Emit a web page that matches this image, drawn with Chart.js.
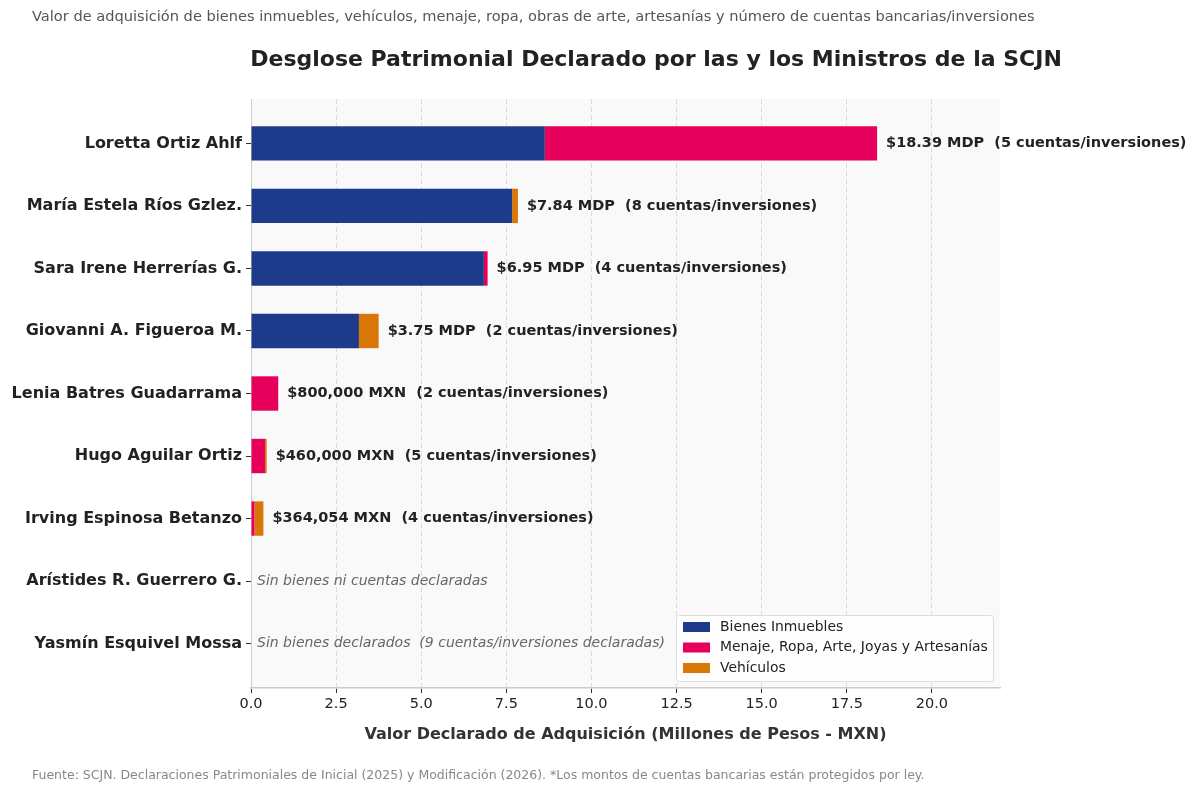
<!DOCTYPE html>
<html>
<head>
<meta charset="utf-8">
<script src="https://cdn.jsdelivr.net/npm/chart.js@4"></script>
<style>
  html, body { margin: 0; padding: 0; background: #fff; }
  #wrap { width: 1200px; height: 794px; position: relative; }
</style>
</head>
<body>
<div id="wrap"><canvas id="chart" width="1200" height="794"></canvas></div>
<script>
// data (millones de pesos)
const ministros = ['Loretta Ortiz Ahlf', 'María Estela Ríos Gzlez.', 'Sara Irene Herrerías G.',
    'Giovanni A. Figueroa M.', 'Lenia Batres Guadarrama', 'Hugo Aguilar Ortiz',
    'Irving Espinosa Betanzo', 'Arístides R. Guerrero G.', 'Yasmín Esquivel Mossa'];
const bienesInmuebles = [8.63, 7.67, 6.84, 3.17, 0, 0, 0, 0, 0];
const menaje = [9.76, 0, 0.11, 0, 0.80, 0.41, 0.10, 0, 0];
const vehiculos = [0, 0.17, 0, 0.58, 0, 0.05, 0.264, 0, 0];
const etiquetas = ['$18.39 MDP  (5 cuentas/inversiones)', '$7.84 MDP  (8 cuentas/inversiones)',
    '$6.95 MDP  (4 cuentas/inversiones)', '$3.75 MDP  (2 cuentas/inversiones)',
    '$800,000 MXN  (2 cuentas/inversiones)', '$460,000 MXN  (5 cuentas/inversiones)',
    '$364,054 MXN  (4 cuentas/inversiones)', 'Sin bienes ni cuentas declaradas',
    'Sin bienes declarados  (9 cuentas/inversiones declaradas)'];
const xTicks = [0, 2.5, 5, 7.5, 10, 12.5, 15, 17.5, 20];

const series = [
    {label: 'Bienes Inmuebles', data: bienesInmuebles, color: '#1E3A8A'},
    {label: 'Menaje, Ropa, Arte, Joyas y Artesanías', data: menaje, color: '#E6005C'},
    {label: 'Vehículos', data: vehiculos, color: '#D97706'}
];

const FONT = "'DejaVu Sans', sans-serif";

const decor = {
    id: 'decor',
    beforeDraw(chart) {
        const {ctx, chartArea: a} = chart;
        ctx.save();
        ctx.fillStyle = '#f9f9f9';
        ctx.fillRect(a.left, a.top, a.right - a.left, a.bottom - a.top);
        ctx.restore();
    },
    afterDraw(chart) {
        const {ctx, chartArea: a} = chart;
        const xs = chart.scales.x, ys = chart.scales.y;
        ctx.save();
        // subtitle, title, axis title, footer
        ctx.textBaseline = 'middle';
        ctx.fillStyle = '#555';
        ctx.font = '14.6px ' + FONT;
        ctx.textAlign = 'left';
        ctx.fillText('Valor de adquisición de bienes inmuebles, vehículos, menaje, ropa, obras de arte, artesanías y número de cuentas bancarias/inversiones', 32, 17);
        ctx.fillStyle = '#222';
        ctx.font = 'bold 22px ' + FONT;
        ctx.textAlign = 'center';
        ctx.fillText('Desglose Patrimonial Declarado por las y los Ministros de la SCJN', 656, 60);
        ctx.fillStyle = '#333';
        ctx.font = 'bold 16px ' + FONT;
        ctx.fillText('Valor Declarado de Adquisición (Millones de Pesos - MXN)', (a.left + a.right) / 2, 735);
        ctx.fillStyle = '#888';
        ctx.font = '12.5px ' + FONT;
        ctx.textAlign = 'left';
        ctx.fillText('Fuente: SCJN. Declaraciones Patrimoniales de Inicial (2025) y Modificación (2026). *Los montos de cuentas bancarias están protegidos por ley.', 32, 776);

        // value labels at the end of each bar
        ministros.forEach((m, i) => {
            const total = bienesInmuebles[i] + menaje[i] + vehiculos[i];
            const y = ys.getPixelForValue(i);
            if (total > 0) {
                ctx.fillStyle = '#222';
                ctx.font = 'bold 14.5px ' + FONT;
                ctx.fillText(etiquetas[i], xs.getPixelForValue(total) + 9, y);
            } else {
                ctx.fillStyle = '#666';
                ctx.font = 'italic 14px ' + FONT;
                ctx.fillText(etiquetas[i], xs.getPixelForValue(0) + 6, y);
            }
        });

        // legend box, lower right inside the plot
        const bx = 676, by = 615, bw = 317, bh = 66;
        ctx.fillStyle = 'rgba(255,255,255,0.85)';
        ctx.strokeStyle = '#dddddd';
        ctx.lineWidth = 1;
        ctx.beginPath();
        ctx.roundRect(bx + 0.5, by + 0.5, bw, bh, 3);
        ctx.fill();
        ctx.stroke();
        ctx.font = '13.9px ' + FONT;
        series.forEach((s, k) => {
            const ly = by + 12 + k * 20.5;
            ctx.fillStyle = s.color;
            ctx.fillRect(bx + 7, ly - 5, 27, 10);
            ctx.fillStyle = '#222';
            ctx.fillText(s.label, bx + 44, ly);
        });
        ctx.restore();
    }
};

const ctx = document.getElementById('chart').getContext('2d');
const chart = new Chart(ctx, {
    type: 'bar',
    data: {
        datasets: series.map(s => ({
            label: s.label,
            data: s.data.map((v, i) => ({x: v, y: i})),
            backgroundColor: s.color,
            borderWidth: 0,
            barPercentage: 0.55,
            categoryPercentage: 1
        }))
    },
    options: {
        indexAxis: 'y',
        responsive: false,
        animation: false,
        layout: {padding: {top: 99, right: 200, left: 0, bottom: 0}},
        plugins: {legend: {display: false}, tooltip: {enabled: false}},
        scales: {
            x: {
                type: 'linear',
                stacked: true,
                min: 0,
                max: 22,
                afterBuildTicks: s => { s.ticks = xTicks.map(v => ({value: v})); },
                afterFit: s => { s.height = 106; },
                ticks: {
                    font: {family: FONT, size: 14.5},
                    color: '#222',
                    padding: 3,
                    maxRotation: 0,
                    callback: v => v.toFixed(1)
                },
                grid: {color: '#dcdcdc', lineWidth: 1, tickLength: 5, tickColor: '#333'},
                border: {color: '#cccccc', width: 1.5, dash: [5, 3]}
            },
            y: {
                type: 'linear',
                stacked: true,
                reverse: true,
                offset: false,
                min: -0.71,
                max: 8.71,
                afterBuildTicks: s => { s.ticks = ministros.map((m, i) => ({value: i})); },
                afterFit: s => { s.width = 251; },
                ticks: {
                    font: {family: FONT, size: 16, weight: 'bold'},
                    color: '#222',
                    padding: 4,
                    callback: v => ministros[v]
                },
                grid: {drawOnChartArea: false, offset: false, tickLength: 5, tickColor: '#333'},
                border: {color: '#cccccc', width: 1}
            }
        }
    },
    plugins: [decor]
});
</script>
</body>
</html>
